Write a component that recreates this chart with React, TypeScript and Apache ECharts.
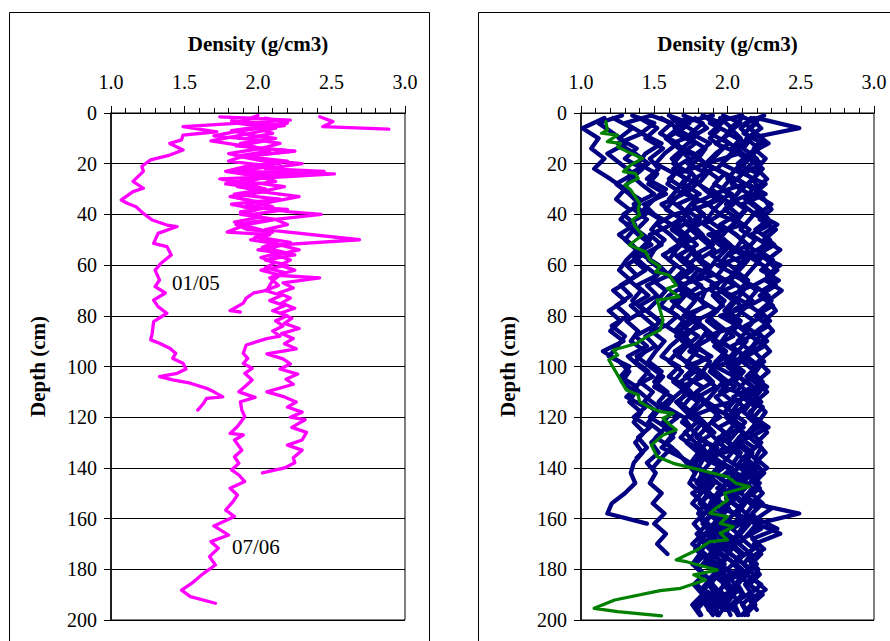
import React, { useEffect, useRef } from "react";
import * as echarts from "echarts";

const FONT = "'Liberation Serif', 'Times New Roman', serif";

const densityTicks = [1.0, 1.5, 2.0, 2.5, 3.0];
const depthTicks = [0, 20, 40, 60, 80, 100, 120, 140, 160, 180, 200];
const xTitle = "Density (g/cm3)";
const yTitle = "Depth (cm)";

// ---------- Left panel (magenta), [density, depth] ----------
const prof0105: number[][] = [
  [1.74, 1.5], [2.22, 2.8], [1.49, 5.4], [1.72, 7.4], [1.49, 8.7], [1.48, 10.6], [1.40, 12], [1.49, 14.6],
  [1.40, 16.6], [1.27, 18.5], [1.21, 21], [1.22, 23], [1.15, 27], [1.22, 29.7], [1.15, 31], [1.07, 34.3],
  [1.11, 35.6], [1.17, 37], [1.22, 39.6], [1.28, 42.2], [1.38, 44.2], [1.45, 44.8], [1.32, 47.5], [1.29, 51.4],
  [1.38, 52.7], [1.41, 56], [1.34, 59.3], [1.30, 62], [1.33, 65.9], [1.30, 68.5], [1.37, 71], [1.29, 73.8],
  [1.32, 76.4], [1.38, 79], [1.29, 82.3], [1.28, 86.9], [1.27, 89.5], [1.33, 90.8], [1.40, 92.8], [1.44, 94.8],
  [1.42, 96.8], [1.49, 98.7], [1.51, 101], [1.45, 102.7], [1.33, 104], [1.42, 105.3], [1.54, 106.6],
  [1.65, 108.6], [1.70, 110], [1.76, 112], [1.65, 112.6], [1.63, 114.5], [1.59, 117.2],
];

const prof0706: number[][] = [
  [2.00, 1], [1.85, 4], [2.12, 6], [1.95, 8], [1.68, 11], [1.90, 13], [2.08, 15], [1.86, 17], [2.20, 19],
  [1.95, 21], [1.84, 23], [2.15, 25], [1.74, 26], [1.92, 28], [2.05, 30], [1.81, 33], [2.00, 35], [1.90, 37],
  [2.20, 38], [1.96, 40], [2.08, 42], [1.85, 44], [1.93, 46], [2.10, 47], [2.00, 49], [2.22, 51], [2.08, 53],
  [2.15, 55], [2.02, 57], [2.12, 59], [2.05, 61], [2.18, 63], [2.08, 65], [2.14, 68], [2.05, 70], [2.16, 72],
  [2.08, 74], [2.18, 76], [2.10, 78], [2.20, 80], [2.12, 82], [2.17, 84], [2.10, 86], [2.15, 88],
  [2.06, 89], [1.92, 91.5], [1.90, 94.8], [1.93, 96.8], [1.90, 98.8], [1.96, 100.7], [1.91, 102.7],
  [1.96, 105.3], [1.91, 108], [1.87, 110], [1.98, 112.2], [1.88, 113.9], [1.89, 117.2], [1.91, 119.8],
  [1.86, 123.7], [1.81, 126.4], [1.90, 127], [1.84, 129], [1.89, 133], [1.84, 135.6], [1.87, 138.2],
  [1.82, 140.8], [1.87, 142.8], [1.91, 145.4], [1.81, 148], [1.86, 150.7], [1.83, 153.3], [1.78, 156.6],
  [1.84, 159.2], [1.70, 162.9], [1.80, 166.5], [1.68, 169.1], [1.73, 171.7], [1.67, 175], [1.71, 178.3],
  [1.63, 181.6], [1.55, 185.5], [1.48, 188.2], [1.54, 190.8], [1.71, 193.4],
];

const profMainC: number[][] = [
  [2.05, 2], [2.20, 4], [1.98, 6], [2.10, 8], [1.92, 10], [2.15, 12], [2.02, 14], [2.25, 15], [1.95, 17],
  [2.12, 19], [2.30, 20], [2.05, 22], [2.45, 23], [2.08, 25], [1.92, 27], [2.18, 29], [2.02, 31], [2.28, 33],
  [2.10, 35], [1.96, 37], [2.22, 39], [2.43, 40], [2.12, 42], [2.20, 44], [2.05, 46], [2.69, 50], [2.15, 52],
  [2.28, 54], [2.12, 56], [2.22, 58], [2.15, 60], [2.25, 62], [2.13, 64], [2.42, 65], [2.17, 67], [2.24, 69],
  [2.14, 71], [2.22, 73], [2.16, 75], [2.25, 77], [2.15, 79], [2.23, 81], [2.18, 83], [2.28, 85], [2.16, 87],
  [2.24, 89], [2.18, 91], [2.26, 93], [2.06, 95], [2.17, 97], [2.22, 99], [2.15, 101], [2.27, 103],
  [2.19, 105], [2.24, 107], [2.06, 110], [2.18, 112], [2.26, 114], [2.20, 116], [2.30, 118], [2.22, 120],
  [2.32, 121], [2.23, 124], [2.33, 126], [2.30, 129], [2.20, 131], [2.30, 133], [2.24, 136], [2.25, 138],
  [2.18, 140], [2.03, 142],
];

const profShortD: number[][] = [
  [1.82, 3], [2.18, 5], [1.88, 7], [1.70, 9], [2.05, 11], [1.85, 13], [2.25, 15], [1.90, 17], [1.80, 19],
  [2.10, 21], [1.86, 23], [2.52, 24], [1.95, 26], [1.78, 28], [2.05, 30], [1.84, 32], [2.15, 34], [1.82, 36],
  [2.00, 38], [1.88, 40], [2.12, 42], [1.92, 44], [1.79, 47], [2.08, 48], [1.95, 50], [2.18, 52], [2.00, 54],
  [2.25, 56], [2.05, 58], [2.20, 60], [2.02, 62], [2.15, 64], [2.10, 66], [2.06, 70], [1.97, 71], [1.92, 73],
  [1.90, 75], [1.81, 78], [1.88, 78.5],
];

const profShortG: number[][] = [
  [1.90, 3], [2.05, 5], [1.82, 7], [1.98, 9], [2.12, 10], [1.88, 12], [2.02, 14], [1.80, 16], [1.95, 18],
  [2.15, 20], [1.92, 21], [1.78, 23], [2.00, 25], [2.12, 27], [1.86, 29], [2.05, 31], [1.83, 33], [1.97, 35],
  [2.10, 37], [1.88, 39], [2.02, 41], [1.84, 43], [1.95, 45], [2.08, 47], [1.98, 49], [2.12, 51], [2.03, 53],
  [2.18, 55], [2.06, 58],
];

const profTopE: number[][] = [[2.42, 1.5], [2.51, 3.4], [2.44, 5.4], [2.89, 6.4]];

// ---------- Right panel ----------
const navyDepth = [
  2, 6, 10, 14, 18, 22, 26, 30, 34, 38, 42, 46, 50, 54, 58, 62, 66, 70, 74, 78, 82, 86, 90, 94, 98,
  102, 106, 110, 114, 118, 122, 126, 130, 134, 138, 142, 146, 150, 154, 158, 162, 166, 170, 174, 178,
  182, 186, 190, 194, 198,
];
const navyDepth2 = [
  1, 4, 8, 12, 16, 20, 24, 28, 32, 36, 40, 44, 48, 52, 56, 60, 64, 68, 72, 76, 80, 84, 88, 92, 96,
  100, 104, 108, 112, 116, 120, 124, 128, 132, 136, 140, 144, 148, 152, 156, 160, 164, 168, 172, 176,
  180, 184, 188, 192, 196,
];

const navy1 = [1.16, 1.01, 1.12, 1.07, 1.16, 1.09, 1.20, 1.30, 1.24, 1.33, 1.27, 1.36, 1.30, 1.38, 1.31, 1.26, 1.34, 1.22, 1.30, 1.19, 1.27, 1.20, 1.29, 1.15, 1.26, 1.33, 1.28, 1.37, 1.33, 1.41, 1.36, 1.43, 1.37, 1.42, 1.36, 1.34, 1.37, 1.30, 1.21, 1.18, 1.45];
const navy2 = [1.22, 1.35, 1.26, 1.38, 1.30, 1.42, 1.34, 1.29, 1.40, 1.36, 1.45, 1.38, 1.47, 1.40, 1.36, 1.44, 1.33, 1.41, 1.35, 1.43, 1.31, 1.39, 1.34, 1.44, 1.37, 1.46, 1.40, 1.49, 1.43, 1.52, 1.46, 1.55, 1.48, 1.53, 1.45, 1.51, 1.47, 1.55, 1.49, 1.57, 1.50, 1.58, 1.52, 1.59];
const navy3 = [1.40, 1.52, 1.44, 1.56, 1.47, 1.53, 1.45, 1.58, 1.50, 1.43, 1.54, 1.48, 1.57, 1.50, 1.46, 1.55, 1.49, 1.58, 1.52, 1.45, 1.54, 1.48, 1.57, 1.51, 1.46, 1.55, 1.50, 1.59, 1.53, 1.62, 1.56, 1.64, 1.58, 1.66, 1.72, 1.78, 1.74, 1.82, 1.76, 1.84, 1.77, 1.83, 1.76, 1.85, 1.78, 1.84, 1.77, 1.83, 1.76, 1.81];
const navy4 = [1.55, 1.66, 1.58, 1.70, 1.62, 1.68, 1.60, 1.71, 1.64, 1.58, 1.69, 1.62, 1.72, 1.65, 1.60, 1.70, 1.63, 1.74, 1.66, 1.61, 1.70, 1.64, 1.73, 1.66, 1.60, 1.69, 1.63, 1.72, 1.67, 1.75, 1.69, 1.78, 1.72, 1.80, 1.75, 1.83, 1.79, 1.87, 1.81, 1.89, 1.83, 1.90, 1.84, 1.91, 1.86, 1.93, 1.87, 1.92, 1.85, 1.90];
const navy5 = [1.72, 1.64, 1.77, 1.69, 1.80, 1.73, 1.79, 1.70, 1.78, 1.72, 1.81, 1.74, 1.67, 1.77, 1.71, 1.80, 1.74, 1.68, 1.78, 1.72, 1.81, 1.75, 1.69, 1.79, 1.73, 1.82, 1.76, 1.70, 1.80, 1.74, 1.83, 1.77, 1.86, 1.80, 1.88, 1.82, 1.91, 1.85, 1.93, 1.87, 1.95, 1.88, 1.96, 1.90, 1.97, 1.91, 1.98, 1.92, 1.99, 1.94];
const navy6 = [1.78, 1.86, 1.74, 1.85, 1.80, 1.90, 1.77, 1.84, 1.92, 1.79, 1.86, 1.75, 1.83, 1.91, 1.80, 1.87, 1.76, 1.85, 1.82, 1.93, 1.78, 1.86, 1.81, 1.74, 1.88, 1.83, 1.90, 1.79, 1.85, 1.77, 1.84, 1.91, 1.80, 1.86, 1.78, 1.83, 1.89, 1.76, 1.84, 1.80, 1.87, 1.79, 1.85, 1.81, 1.76, 1.84, 1.79, 1.86, 1.78, 1.82];
const navy7 = [1.86, 1.95, 1.88, 1.97, 1.90, 1.84, 1.94, 1.89, 1.98, 1.91, 1.86, 1.96, 1.90, 1.99, 1.92, 1.87, 1.96, 1.89, 1.98, 1.93, 1.86, 1.95, 1.90, 1.99, 1.92, 1.88, 1.97, 1.91, 1.85, 1.94, 1.89, 1.98, 1.92, 1.87, 1.96, 1.90, 1.99, 1.93, 1.88, 1.97, 1.91, 1.86, 1.95, 1.90, 1.98, 1.92, 1.87, 1.96, 1.91, 1.94];
const navy8 = [1.95, 2.03, 1.97, 2.06, 1.99, 1.93, 2.02, 1.96, 2.05, 1.98, 2.07, 2.00, 1.94, 2.03, 1.97, 2.06, 2.00, 1.95, 2.04, 1.98, 2.07, 2.01, 1.96, 2.05, 1.99, 2.08, 2.02, 1.95, 2.04, 1.98, 2.06, 2.00, 1.94, 2.03, 1.97, 2.05, 1.99, 2.07, 2.01, 1.96, 2.04, 1.98, 2.06, 2.00, 1.95, 2.03, 1.97, 2.04, 1.99, 2.02];
const navy9 = [2.10, 2.02, 2.09, 2.03, 2.12, 2.06, 2.00, 2.09, 2.04, 2.13, 2.07, 2.01, 2.10, 2.05, 2.14, 2.08, 2.02, 2.11, 2.06, 2.00, 2.09, 2.04, 2.13, 2.07, 2.02, 2.11, 2.05, 2.14, 2.08, 2.03, 2.12, 2.06, 2.00, 2.09, 2.04, 2.13, 2.07, 2.02, 2.10, 2.05, 2.12, 2.07, 2.01, 2.09, 2.04, 2.11, 2.05, 2.10, 2.03, 2.07];
const navy10 = [2.18, 2.09, 2.16, 2.11, 2.20, 2.13, 2.07, 2.17, 2.12, 2.21, 2.15, 2.09, 2.19, 2.13, 2.22, 2.16, 2.10, 2.20, 2.14, 2.08, 2.18, 2.12, 2.21, 2.15, 2.10, 2.19, 2.13, 2.22, 2.16, 2.11, 2.20, 2.14, 2.08, 2.17, 2.12, 2.21, 2.15, 2.09, 2.18, 2.13, 2.20, 2.14, 2.08, 2.16, 2.11, 2.18, 2.12, 2.17, 2.10, 2.14];
const navy11 = [2.22, 2.15, 2.24, 2.18, 2.26, 2.20, 2.27, 2.19, 2.25, 2.30, 2.22, 2.33, 2.25, 2.36, 2.27, 2.34, 2.26, 2.37, 2.28, 2.33, 2.25, 2.31, 2.23, 2.29, 2.21, 2.28, 2.20, 2.27, 2.19, 2.26, 2.21, 2.27, 2.20, 2.26, 2.19, 2.25, 2.18, 2.24, 2.17, 2.49, 2.20, 2.36, 2.18, 2.23, 2.16, 2.22, 2.15, 2.24, 2.16, 2.10];
const navy12 = [2.16, 2.23, 2.13, 2.21, 2.15, 2.24, 2.17, 2.22, 2.14, 2.23, 2.28, 2.19, 2.29, 2.21, 2.31, 2.23, 2.35, 2.24, 2.30, 2.22, 2.29, 2.20, 2.27, 2.18, 2.25, 2.17, 2.24, 2.16, 2.23, 2.15, 2.22, 2.16, 2.23, 2.15, 2.21, 2.14, 2.22, 2.16, 2.24, 2.17, 2.22, 2.15, 2.21, 2.14, 2.20, 2.13, 2.23, 2.15, 2.19, 2.12];
const navy13 = [2.20, 2.49, 2.14, 2.06, 2.15, 2.08, 2.17, 2.10, 2.03, 2.12, 2.06, 2.15, 2.09, 2.18, 2.11, 2.05, 2.14, 2.08, 2.17, 2.10, 2.04, 2.13, 2.07, 2.16, 2.09, 2.03, 2.12, 2.06, 2.15, 2.08, 2.02, 2.11, 2.05, 2.14, 2.08, 2.17, 2.10, 2.04, 2.12, 2.07, 2.15, 2.09, 2.03, 2.11, 2.06, 2.13, 2.07, 2.11, 2.05, 2.08];
const navy14 = [1.62, 1.70, 1.58, 1.67, 1.74, 1.63, 1.71, 1.66, 1.60, 1.69, 1.75, 1.65, 1.72, 1.61, 1.68, 1.76, 1.66, 1.73, 1.62, 1.70, 1.77, 1.67, 1.74, 1.64, 1.71, 1.78, 1.68, 1.75, 1.65, 1.72, 1.79, 1.71, 1.78, 1.84, 1.76, 1.86, 1.80, 1.88, 1.82, 1.90, 1.84, 1.92, 1.85, 1.93, 1.87, 1.94, 1.88, 1.95, 1.89, 1.93];

const navyB1 = [1.28, 1.12, 1.22, 1.31, 1.18, 1.27, 1.36, 1.24, 1.33, 1.40, 1.29, 1.37, 1.26, 1.35, 1.42, 1.31, 1.38, 1.27, 1.34, 1.24, 1.32, 1.21, 1.30, 1.25, 1.19, 1.33, 1.27, 1.38, 1.31, 1.44, 1.36, 1.47, 1.39, 1.45, 1.38];
const navyB2 = [1.35, 1.50, 1.41, 1.55, 1.44, 1.39, 1.52, 1.46, 1.58, 1.43, 1.50, 1.62, 1.47, 1.55, 1.42, 1.53, 1.60, 1.45, 1.52, 1.40, 1.49, 1.57, 1.44, 1.51, 1.38, 1.47, 1.56, 1.50, 1.62, 1.54, 1.66, 1.57, 1.63, 1.55, 1.69, 1.80, 1.76, 1.85, 1.79, 1.88, 1.81, 1.89, 1.83, 1.78, 1.86, 1.80, 1.88, 1.82, 1.85, 1.79];
const navyB3 = [1.48, 1.62, 1.54, 1.66, 1.57, 1.51, 1.64, 1.59, 1.70, 1.55, 1.63, 1.52, 1.61, 1.68, 1.56, 1.65, 1.59, 1.71, 1.60, 1.54, 1.66, 1.58, 1.69, 1.61, 1.55, 1.67, 1.60, 1.72, 1.64, 1.58, 1.70, 1.75, 1.68, 1.78, 1.84, 1.80, 1.89, 1.83, 1.92, 1.86, 1.95, 1.88, 1.81, 1.91, 1.85, 1.94, 1.87, 1.93, 1.86, 1.90];
const navyB4 = [1.60, 1.74, 1.65, 1.78, 1.69, 1.63, 1.75, 1.70, 1.81, 1.66, 1.73, 1.62, 1.72, 1.79, 1.67, 1.76, 1.70, 1.82, 1.71, 1.65, 1.77, 1.69, 1.80, 1.72, 1.66, 1.78, 1.71, 1.83, 1.75, 1.69, 1.80, 1.86, 1.79, 1.91, 1.85, 1.96, 1.89, 1.98, 1.92, 2.01, 1.94, 1.87, 1.97, 1.90, 1.99, 1.93, 2.02, 1.95, 1.99, 1.92];
const navyB5 = [1.70, 1.83, 1.75, 1.88, 1.79, 1.73, 1.86, 1.80, 1.91, 1.76, 1.84, 1.72, 1.82, 1.90, 1.77, 1.87, 1.81, 1.93, 1.78, 1.85, 1.74, 1.83, 1.91, 1.79, 1.88, 1.76, 1.84, 1.92, 1.80, 1.87, 1.95, 1.84, 1.91, 1.98, 1.88, 2.03, 1.95, 2.06, 1.99, 2.08, 2.01, 1.94, 2.05, 1.97, 2.07, 2.00, 2.09, 2.02, 2.06, 1.99];
const navyB6 = [1.83, 1.96, 1.88, 2.01, 1.92, 1.85, 1.98, 1.91, 2.03, 1.87, 1.95, 1.84, 1.94, 2.02, 1.89, 1.99, 1.93, 2.05, 1.90, 1.97, 1.86, 1.95, 2.04, 1.91, 2.00, 1.88, 1.96, 2.05, 1.92, 1.99, 2.07, 1.94, 2.02, 1.89, 1.98, 2.08, 1.95, 2.03, 1.91, 2.00, 2.09, 1.96, 2.04, 1.92, 2.01, 2.10, 1.97, 2.05, 1.93, 2.00];
const navyB7 = [1.97, 2.09, 2.00, 2.13, 2.04, 1.96, 2.10, 2.03, 2.15, 1.99, 2.07, 1.95, 2.06, 2.14, 2.01, 2.11, 2.04, 2.17, 2.02, 2.09, 1.98, 2.07, 2.16, 2.03, 2.12, 2.00, 2.08, 2.17, 2.04, 2.11, 1.99, 2.06, 2.14, 2.01, 2.10, 2.18, 2.05, 2.12, 2.00, 2.09, 2.16, 2.03, 2.11, 1.98, 2.07, 2.15, 2.02, 2.09, 1.97, 2.04];
const navyB8 = [2.08, 2.20, 2.11, 2.24, 2.15, 2.07, 2.21, 2.14, 2.26, 2.10, 2.19, 2.29, 2.16, 2.27, 2.13, 2.24, 2.31, 2.18, 2.28, 2.15, 2.25, 2.12, 2.22, 2.17, 2.09, 2.20, 2.13, 2.23, 2.10, 2.19, 2.14, 2.22, 2.08, 2.18, 2.12, 2.21, 2.09, 2.17, 2.11, 2.20, 2.14, 2.23, 2.10, 2.18, 2.07, 2.16, 2.11, 2.19, 2.08, 2.13];
const navyB9 = [1.90, 1.68, 1.80, 1.62, 1.77, 1.85, 1.66, 1.79, 1.71, 1.88, 1.64, 1.76, 1.83, 1.69, 1.81, 1.73, 1.90, 1.67, 1.78, 1.86, 1.70, 1.82, 1.65, 1.77, 1.89, 1.72, 1.84, 1.68, 1.80, 1.92, 1.74, 1.86, 1.79, 1.93, 1.83, 1.97, 1.87, 1.80, 1.94, 1.85, 1.99, 1.89, 1.82, 1.96, 1.88, 2.00, 1.90, 1.84, 1.95, 1.87];
const navyB10 = [2.10, 1.88, 2.02, 1.92, 2.08, 1.85, 1.99, 2.12, 1.90, 2.04, 1.94, 2.11, 1.87, 2.01, 2.14, 1.93, 2.06, 1.89, 2.03, 2.16, 1.95, 2.07, 1.86, 2.00, 2.13, 1.92, 2.05, 1.97, 2.15, 1.90, 2.02, 2.11, 1.94, 2.08, 1.87, 2.00, 2.12, 1.93, 2.06, 1.96, 2.14, 1.91, 2.03, 1.89, 2.01, 2.09, 1.94, 2.05, 1.90, 1.98];
const navyB11 = [2.25, 2.12, 2.19, 2.28, 2.15, 2.23, 2.11, 2.26, 2.18, 2.30, 2.21, 2.34, 2.24, 2.32, 2.20, 2.36, 2.27, 2.33, 2.22, 2.31, 2.19, 2.28, 2.16, 2.25, 2.13, 2.22, 2.17, 2.27, 2.14, 2.24, 2.18, 2.28, 2.15, 2.23, 2.19, 2.27, 2.16, 2.22, 2.13, 2.30, 2.20, 2.34, 2.17, 2.25, 2.14, 2.21, 2.18, 2.26, 2.15, 2.20];
const navyB12 = [1.48, 1.30, 1.42, 1.25, 1.37, 1.46, 1.33, 1.41, 1.50, 1.36, 1.44, 1.31, 1.39, 1.48, 1.35, 1.43, 1.52, 1.38, 1.46, 1.34, 1.42, 1.50, 1.37, 1.45, 1.32, 1.40, 1.49, 1.36, 1.44, 1.53, 1.47, 1.58, 1.51, 1.62, 1.55, 1.49];

const greenProfile: number[][] = [
  [1.17, 3.4], [1.18, 6.7], [1.14, 8], [1.25, 8.7], [1.18, 11.3], [1.27, 12], [1.25, 13.3], [1.34, 15.9],
  [1.42, 17.9], [1.34, 20.5], [1.29, 23.1], [1.37, 23.8], [1.39, 25.8], [1.30, 28.4], [1.34, 30.4],
  [1.37, 33], [1.40, 35.6], [1.39, 38.3], [1.40, 40.2], [1.35, 42.2], [1.37, 44.8], [1.42, 48.1],
  [1.33, 52.1], [1.44, 54.7], [1.47, 58], [1.54, 60.6], [1.51, 62.6], [1.60, 63.9], [1.65, 67.9],
  [1.59, 69.2], [1.67, 72.5], [1.52, 73.8], [1.54, 77.7], [1.56, 81.7], [1.54, 85.6], [1.45, 88.2],
  [1.38, 90.9], [1.22, 93.5], [1.25, 95.5], [1.19, 97.4], [1.31, 109.3], [1.39, 111.2], [1.40, 113.9],
  [1.46, 115.9], [1.54, 117.8], [1.63, 118.5], [1.56, 120.4], [1.61, 123.1], [1.65, 125], [1.56, 127],
  [1.48, 131], [1.52, 135.6], [1.63, 138.2], [1.77, 140.2], [2.00, 143.5], [2.06, 146.1], [2.15, 147.4],
  [2.06, 148.7], [1.98, 150], [2.00, 152.7], [1.92, 155.9], [1.88, 157.9], [2.00, 159.2], [1.95, 161.9],
  [2.04, 163.2], [1.95, 165.8], [2.00, 168.4], [1.88, 169.1], [1.79, 172.4], [1.65, 176.3], [1.72, 177],
  [1.93, 180.3], [1.77, 182.2], [1.85, 184.2], [1.68, 187.5], [1.54, 188.4], [1.23, 192.1], [1.09, 195.4],
  [1.25, 196.7], [1.55, 198.4],
];

const leftProfiles = [prof0105, prof0706, profMainC, profShortD, profShortG, profTopE];
const navyProfilesA = [navy1, navy2, navy3, navy4, navy5, navy6, navy7, navy8, navy9, navy10, navy11, navy12, navy13, navy14];
const navyProfilesB = [navyB1, navyB2, navyB3, navyB4, navyB5, navyB6, navyB7, navyB8, navyB9, navyB10, navyB11, navyB12];

const MAGENTA = "#FF00FF";
const NAVY = "#000080";
const GREEN = "#008000";

function makeXAxis(gridIndex: number) {
  return {
    type: "value",
    gridIndex,
    position: "top",
    min: densityTicks[0],
    max: densityTicks[densityTicks.length - 1],
    interval: 0.5,
    name: xTitle,
    nameLocation: "middle",
    nameGap: 59,
    nameTextStyle: { fontFamily: FONT, fontWeight: "bold", fontSize: 21, color: "#000" },
    axisLine: { show: true, onZero: false, lineStyle: { color: "#000", width: 1 } },
    axisTick: { show: true, inside: false, length: 7, lineStyle: { color: "#000", width: 1 } },
    minorTick: { show: true, splitNumber: 5, length: 5, lineStyle: { color: "#000", width: 1 } },
    axisLabel: {
      formatter: (v: number) => v.toFixed(1),
      fontFamily: FONT,
      fontSize: 20,
      color: "#000",
      margin: 21,
    },
    splitLine: { show: false },
  };
}

function makeYAxis(gridIndex: number) {
  return {
    type: "value",
    gridIndex,
    inverse: true,
    min: depthTicks[0],
    max: depthTicks[depthTicks.length - 1],
    interval: 20,
    name: yTitle,
    nameLocation: "middle",
    nameGap: 63,
    nameRotate: 90,
    nameTextStyle: { fontFamily: FONT, fontWeight: "bold", fontSize: 21, color: "#000" },
    axisLine: { show: true, onZero: false, lineStyle: { color: "#000", width: 1.5 } },
    axisTick: { show: true, inside: false, length: 7, lineStyle: { color: "#000", width: 1 } },
    axisLabel: { fontFamily: FONT, fontSize: 20, color: "#000", margin: 14 },
    splitLine: { show: true, lineStyle: { color: "#000", width: 1 } },
  };
}

function lineSeries(data: number[][], axis: number, color: string, width: number, z: number) {
  return {
    type: "line",
    xAxisIndex: axis,
    yAxisIndex: axis,
    data,
    showSymbol: false,
    symbol: "none",
    silent: true,
    lineStyle: { color, width, join: "round", cap: "round" },
    z,
  };
}

export default function App() {
  const ref = useRef<HTMLDivElement>(null);

  useEffect(() => {
    if (!ref.current) return;
    const chart = echarts.init(ref.current, undefined, { renderer: "svg" });

    const series: any[] = [];
    leftProfiles.forEach((p) => series.push(lineSeries(p, 0, MAGENTA, 3.3, 3)));
    navyProfilesA.forEach((vals) =>
      series.push(lineSeries(vals.map((v, i) => [v, navyDepth[i]]), 1, NAVY, 4.3, 3))
    );
    navyProfilesB.forEach((vals) =>
      series.push(lineSeries(vals.map((v, i) => [v, navyDepth2[i]]), 1, NAVY, 4.3, 3))
    );
    series.push(lineSeries(greenProfile, 1, GREEN, 3.2, 4));

    chart.setOption({
      animation: false,
      backgroundColor: "#fff",
      grid: [
        { left: 111, top: 113, width: 294, height: 507, show: true, borderColor: "#000", borderWidth: 1, backgroundColor: "transparent" },
        { left: 581, top: 113, width: 293, height: 507, show: true, borderColor: "#000", borderWidth: 1, backgroundColor: "transparent" },
      ],
      xAxis: [makeXAxis(0), makeXAxis(1)],
      yAxis: [makeYAxis(0), makeYAxis(1)],
      series,
      graphic: [
        { type: "rect", shape: { x: 9.5, y: 12.5, width: 420, height: 700 }, style: { fill: "none", stroke: "#000", lineWidth: 1 }, z: 0, silent: true },
        { type: "rect", shape: { x: 478.5, y: 12.5, width: 430, height: 700 }, style: { fill: "none", stroke: "#000", lineWidth: 1 }, z: 0, silent: true },
        { type: "text", x: 172, y: 283, style: { text: "01/05", font: `21px ${FONT}`, fill: "#000", verticalAlign: "middle" }, z: 10, silent: true },
        { type: "text", x: 232, y: 547, style: { text: "07/06", font: `21px ${FONT}`, fill: "#000", verticalAlign: "middle" }, z: 10, silent: true },
      ],
    });

    return () => chart.dispose();
  }, []);

  return <div ref={ref} style={{ position: "absolute", left: 0, top: 0, width: 890, height: 641 }} />;
}
